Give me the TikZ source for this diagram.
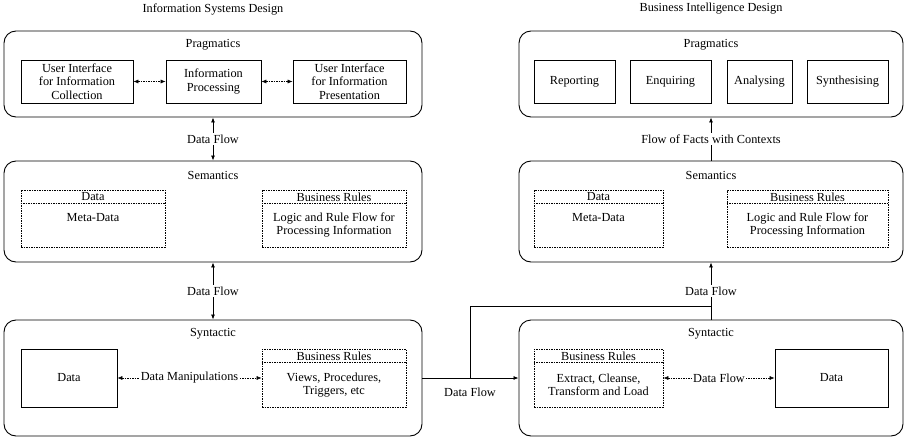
\documentclass[tikz,border=0pt]{standalone}
\usepackage{fontspec}
\setmainfont{Liberation Serif}
\usetikzlibrary{arrows.meta,positioning}
\tikzstyle{layer}=[draw, rounded corners=12pt, line width=0.9pt]
\tikzstyle{block}=[draw, rectangle, line width=0.7pt, align=center, inner sep=2pt]
\tikzstyle{dblock}=[block, dash pattern=on 1.5pt off 1pt]
\tikzstyle{lbl}=[fill=white, inner sep=1.5pt]
\tikzstyle{flow}=[line width=0.8pt]
\tikzstyle{dflow}=[line width=0.6pt, dash pattern=on 1.5pt off 1pt]

\begin{document}
\begin{tikzpicture}[x=1pt, y=-1pt, >={Latex[length=5pt,width=4pt]},
    font=\fontsize{12.3}{13.3}\selectfont]
    \useasboundingbox (0,0) rectangle (906,439);
    % titles
    \node (istitle) at (213,9) {Information Systems Design};
    \node (bititle) at (711,9) {Business Intelligence Design};
    % information systems design
    \node [layer, minimum width=418, minimum height=86] (isprag) at (213,74) {};
    \node (ispragt) at (213,45) {Pragmatics};
    \node [block, minimum width=112, minimum height=43] (uicol) at (77,81.5) {User Interface\\for Information\\Collection};
    \node [block, minimum width=95, minimum height=43] (infproc) at (213.5,81.5) {Information\\Processing};
    \node [block, minimum width=113, minimum height=43] (uipres) at (349.5,81.5) {User Interface\\for Information\\Presentation};
    \draw [dflow, <->] (uicol) -- (infproc);
    \draw [dflow, <->] (infproc) -- (uipres);

    \node [layer, minimum width=418, minimum height=101] (issem) at (213,211.5) {};
    \node (issemt) at (213,175) {Semantics};
    \node [dblock, minimum width=144, minimum height=57] (isdata) at (93,218.5) {};
    \draw [dflow] ([yshift=-14pt]isdata.north west) -- ([yshift=-14pt]isdata.north east);
    \node (isdatah) at (93,197) {Data};
    \node (isdatab) at (93,218) {Meta-Data};
    \node [dblock, minimum width=144, minimum height=57] (isrule) at (334,218.5) {};
    \draw [dflow] ([yshift=-14pt]isrule.north west) -- ([yshift=-14pt]isrule.north east);
    \node (isruleh) at (334,197) {Business Rules};
    \node [align=center] (isruleb) at (334,225) {Logic and Rule Flow for\\Processing Information};

    \node [layer, minimum width=418, minimum height=116] (issyn) at (213,378) {};
    \node (issynt) at (213,334) {Syntactic};
    \node [block, minimum width=96, minimum height=58] (isstore) at (69,378) {Data};
    \node [dblock, minimum width=144, minimum height=58] (isview) at (334,378) {};
    \draw [dflow] ([yshift=-14pt]isview.north west) -- ([yshift=-14pt]isview.north east);
    \node (isviewh) at (334,356) {Business Rules};
    \node [align=center] (isviewb) at (334,385) {Views, Procedures,\\Triggers, etc};
    \draw [dflow, <->] (isstore) -- node [lbl] {Data Manipulations} (isview);

    \draw [flow, <->] (isprag) -- node [lbl] {Data Flow} (issem);
    \draw [flow, <->] (issem) -- node [lbl] {Data Flow} (issyn);

    % business intelligence design
    \node [layer, minimum width=384, minimum height=86] (biprag) at (711,74) {};
    \node (bipragt) at (711,45) {Pragmatics};
    \node [block, minimum width=81, minimum height=43] (report) at (574.5,81.5) {Reporting};
    \node [block, minimum width=81, minimum height=43] (enquire) at (670.5,81.5) {Enquiring};
    \node [block, minimum width=65, minimum height=43] (analyse) at (759.5,81.5) {Analysing};
    \node [block, minimum width=81, minimum height=43] (synth) at (847.5,81.5) {Synthesising};

    \node [layer, minimum width=384, minimum height=101] (bisem) at (711,211.5) {};
    \node (bisemt) at (711,175) {Semantics};
    \node [dblock, minimum width=129, minimum height=57] (bidata) at (598.5,218.5) {};
    \draw [dflow] ([yshift=-14pt]bidata.north west) -- ([yshift=-14pt]bidata.north east);
    \node (bidatah) at (598.5,197) {Data};
    \node (bidatab) at (598.5,218) {Meta-Data};
    \node [dblock, minimum width=161, minimum height=57] (birule) at (807.5,218.5) {};
    \draw [dflow] ([yshift=-14pt]birule.north west) -- ([yshift=-14pt]birule.north east);
    \node (biruleh) at (807.5,197) {Business Rules};
    \node [align=center] (biruleb) at (807.5,225) {Logic and Rule Flow for\\Processing Information};

    \node [layer, minimum width=384, minimum height=116] (bisyn) at (711,378) {};
    \node (bisynt) at (711,334) {Syntactic};
    \node [dblock, minimum width=129, minimum height=58] (etl) at (598.5,378) {};
    \draw [dflow] ([yshift=-14pt]etl.north west) -- ([yshift=-14pt]etl.north east);
    \node (etlh) at (598.5,356) {Business Rules};
    \node [align=center] (etlb) at (598.5,385) {Extract, Cleanse,\\Transform and Load};
    \node [block, minimum width=113, minimum height=58] (bistore) at (831.5,378) {Data};
    \draw [dflow, <->] (etl) -- node [lbl] {Data Flow} (bistore);

    \draw [flow, ->] (bisem) -- node [lbl] {Flow of Facts with Contexts} (biprag);
    \draw [flow, ->] (bisyn) -- node [lbl] {Data Flow} (bisem);

    % flow between the two designs
    \coordinate (split) at (470,378);
    \coordinate (merge) at (711,306);
    \draw [flow] (issyn.east) -- (split);
    \draw [flow, ->] (split) -- (bisyn.west);
    \draw [flow] (split) |- (merge);
    \node (crossl) at (470,392) {Data Flow};
\end{tikzpicture}
\end{document}
